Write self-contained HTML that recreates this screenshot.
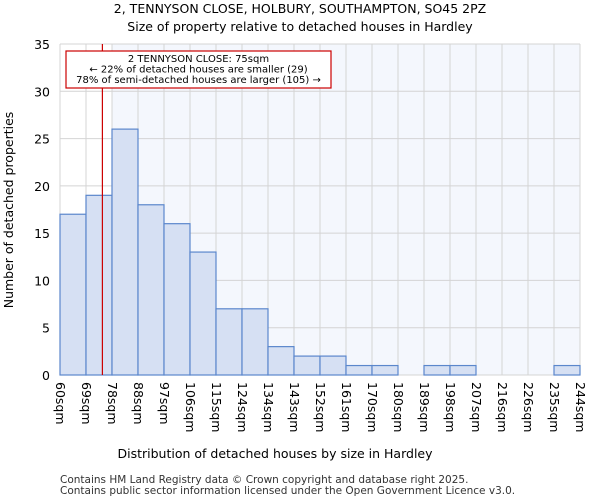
<!DOCTYPE html>
<html><head><meta charset="utf-8"><style>
body{margin:0;background:#fff;font-family:"DejaVu Sans","Liberation Sans",sans-serif}
</style></head><body>
<svg width="600" height="500" xmlns="http://www.w3.org/2000/svg" font-family="DejaVu Sans, Liberation Sans, sans-serif">
<text x="300" y="13" text-anchor="middle" font-size="12.5">2, TENNYSON CLOSE, HOLBURY, SOUTHAMPTON, SO45 2PZ</text>
<text x="300" y="31" text-anchor="middle" font-size="12.5">Size of property relative to detached houses in Hardley</text>
<g id="plot"></g>
<text x="275" y="458" text-anchor="middle" font-size="12.5">Distribution of detached houses by size in Hardley</text>
<text transform="translate(13,210) rotate(-90)" text-anchor="middle" font-size="12.5">Number of detached properties</text>
<text x="60" y="483" font-size="10.5" fill="#333">Contains HM Land Registry data © Crown copyright and database right 2025.</text>
<text x="60" y="494" font-size="10.5" fill="#333">Contains public sector information licensed under the Open Government Licence v3.0.</text>
</svg>
<script>
const tickLabels=["60sqm","69sqm","78sqm","88sqm","97sqm","106sqm","115sqm","124sqm","134sqm","143sqm","152sqm","161sqm","170sqm","180sqm","189sqm","198sqm","207sqm","216sqm","226sqm","235sqm","244sqm"];
const counts=[17,19,26,18,16,13,7,7,3,2,2,1,1,0,1,1,0,0,0,1];
const yTicks=[0,5,10,15,20,25,30,35];
const markerValue=75;
const binStart=60, binEnd=244;
const NS="http://www.w3.org/2000/svg";
const L=60,R=580,T=44,B=375,yMax=35;
const bw=(R-L)/counts.length;
const x=i=>L+i*bw;
const xv=v=>L+(v-binStart)/(binEnd-binStart)*(R-L);
const y=v=>B-v/yMax*(B-T);
const g=document.getElementById('plot');
function mk(t,a){const e=document.createElementNS(NS,t);for(const k in a)e.setAttribute(k,a[k]);g.appendChild(e);return e;}
let e=mk('rect',{x:L,y:T,width:R-L,height:B-T,fill:'#f4f7fd'});


e=mk('rect',{x:L,y:T,width:2*bw,height:B-T,fill:'#fff'});


for(let i=0;i<=counts.length;i++){e=mk('line',{x1:x(i),x2:x(i),y1:T,y2:B,stroke:'#d4d4d4','stroke-width':1});

}
yTicks.forEach(v=>{e=mk('line',{x1:L,x2:R,y1:y(v),y2:y(v),stroke:'#d4d4d4','stroke-width':1});


const t=mk('text',{x:L-10,y:y(v)+5,'text-anchor':'end','font-size':'12.5'});t.textContent=v;

});
counts.forEach((c,i)=>{if(c<=0)return;e=mk('rect',{x:x(i),y:y(c),width:bw,height:B-y(c),fill:'#d6e0f3',stroke:'#5b87cc','stroke-width':1.2});

});
tickLabels.forEach((lb,i)=>{const px=x(i);const t=mk('text',{transform:`translate(${px-4},382) rotate(90)`,'font-size':'12.5'});t.textContent=lb;

});
e=mk('line',{x1:xv(markerValue),x2:xv(markerValue),y1:T,y2:B,stroke:'#cc0000','stroke-width':1.2});


e=mk('rect',{x:66,y:51,width:265,height:37,fill:'#fff',stroke:'#cc0000','stroke-width':1.2});


["2 TENNYSON CLOSE: 75sqm","← 22% of detached houses are smaller (29)","78% of semi-detached houses are larger (105) →"].forEach((s,i)=>{const t=mk('text',{x:198.5,y:62+i*10.5,'text-anchor':'middle','font-size':'10'});t.textContent=s;

});
</script>
</body></html>
